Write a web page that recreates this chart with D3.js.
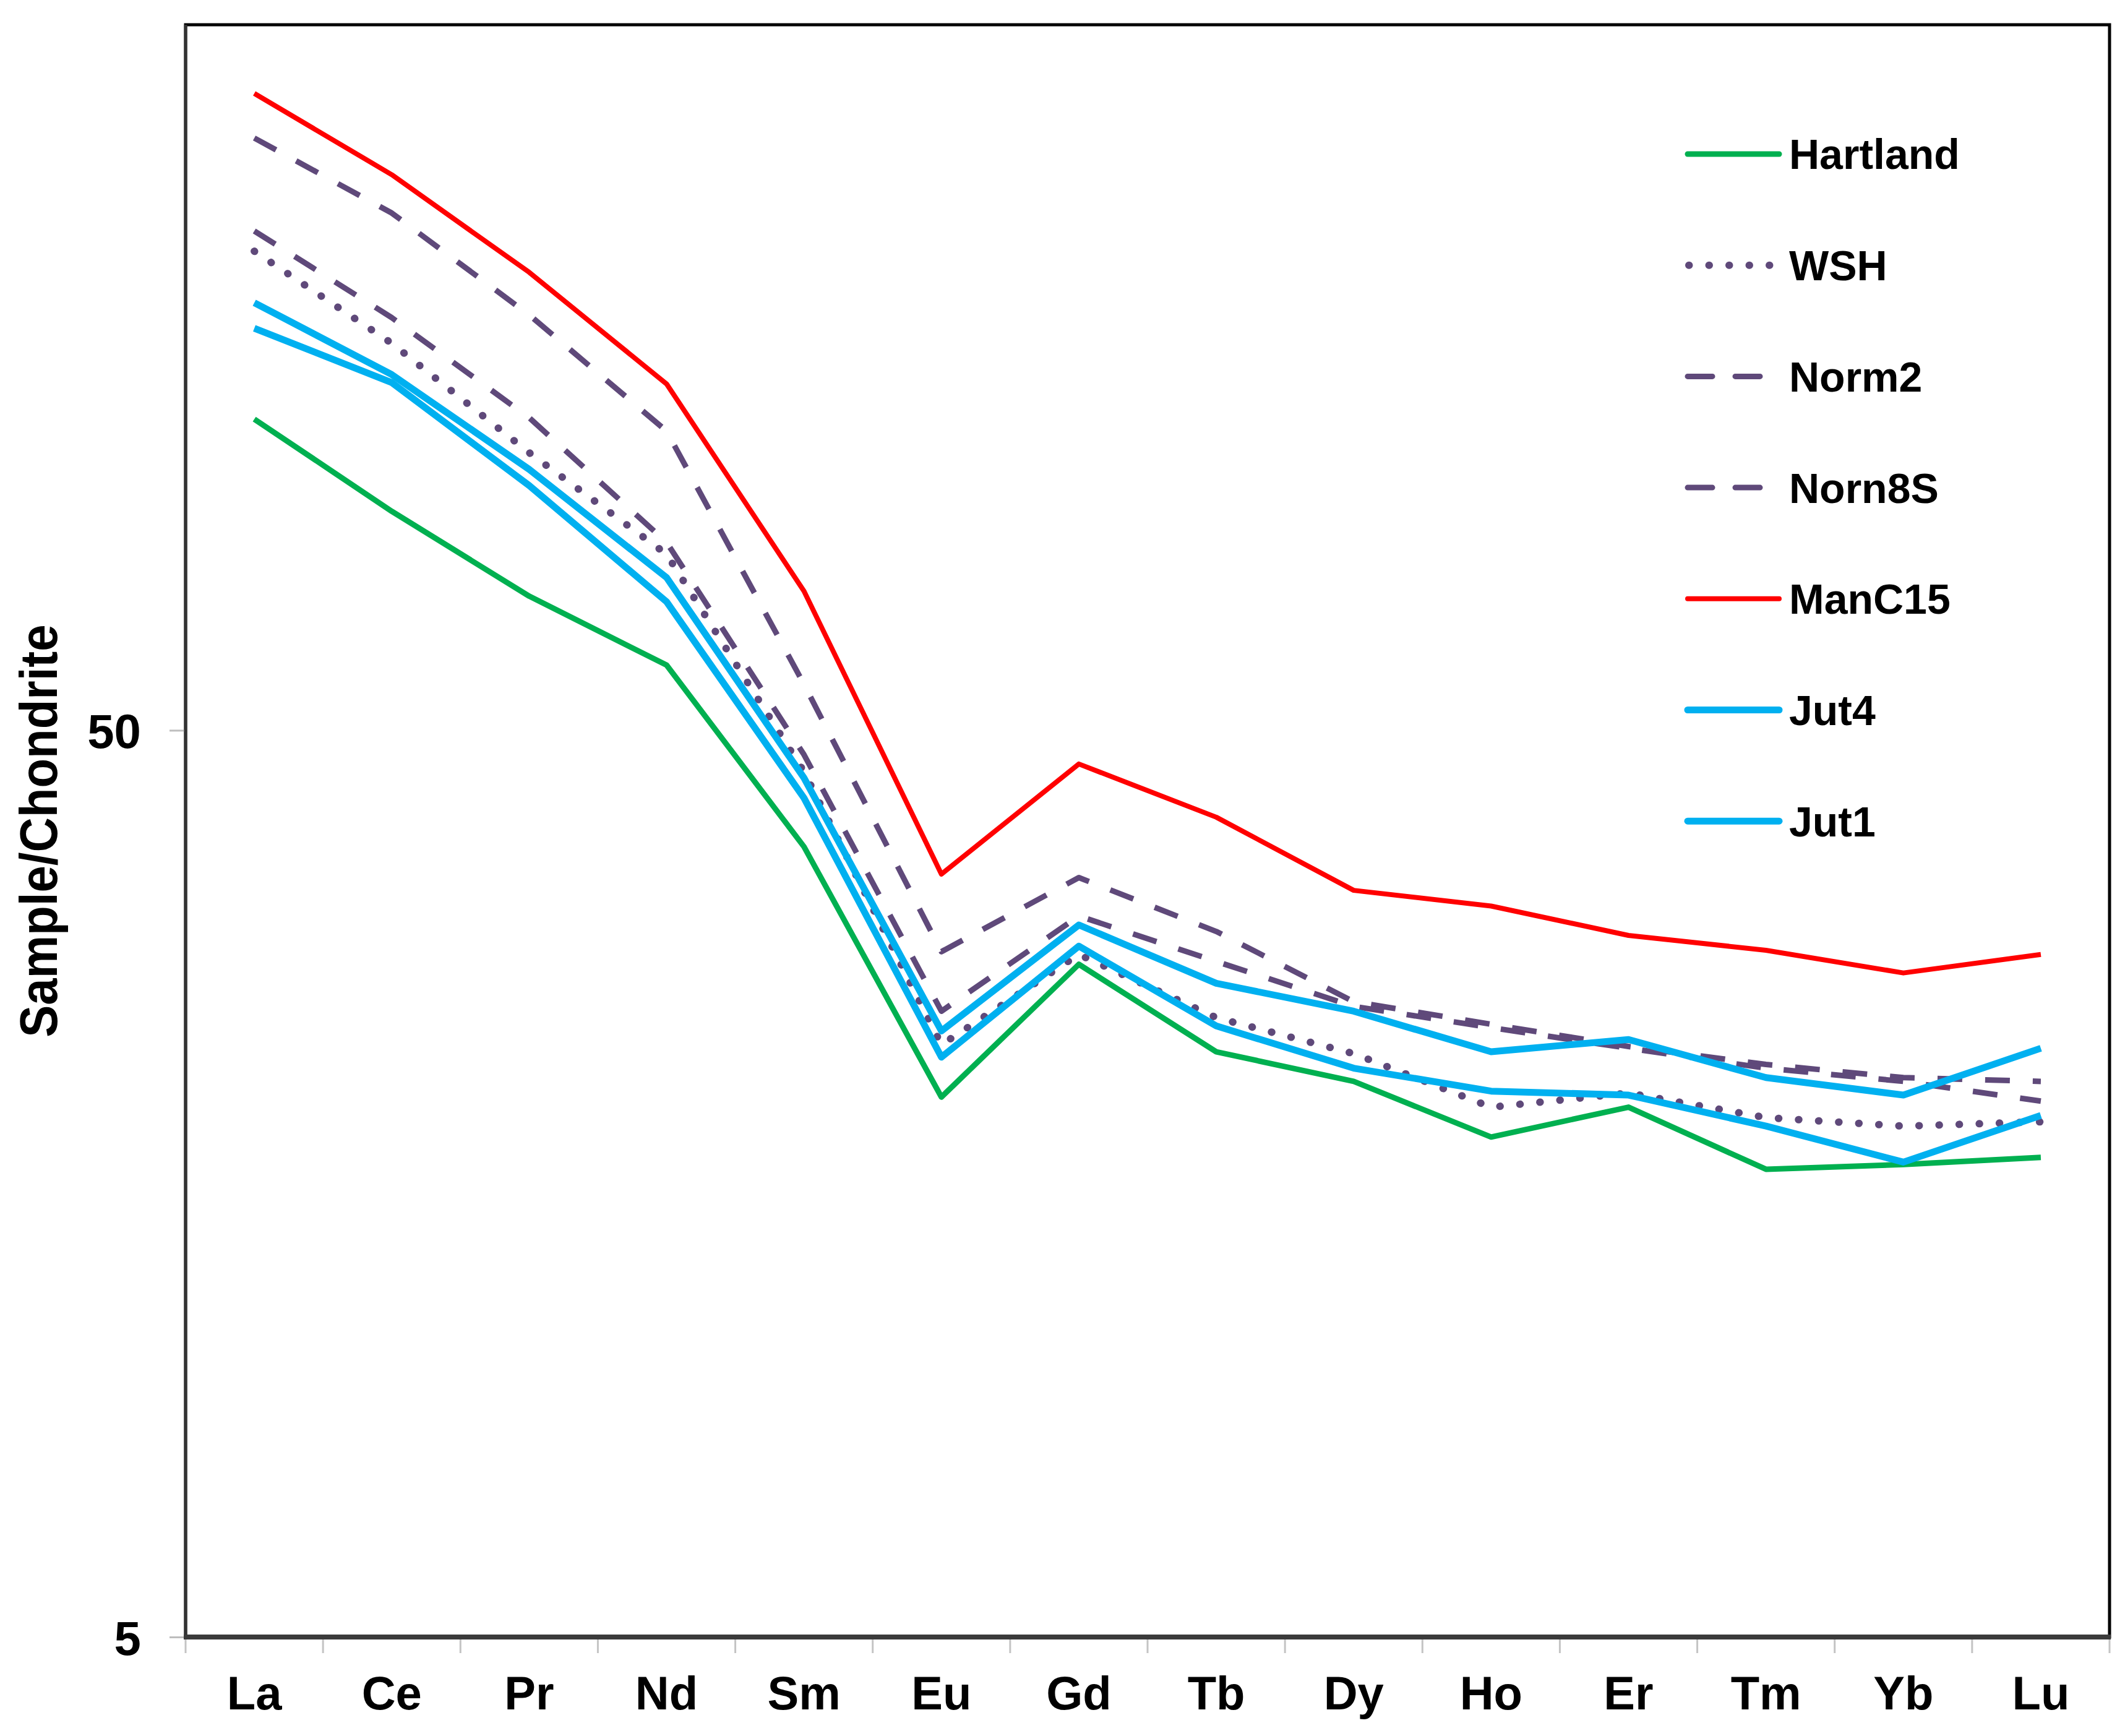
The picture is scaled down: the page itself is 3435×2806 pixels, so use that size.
<!DOCTYPE html>
<html>
<head>
<meta charset="utf-8">
<script src="https://cdn.jsdelivr.net/npm/d3@7"></script>
<style>
  body { margin: 0; background: #fff; }
  text { font-family: "Liberation Sans", Arial, sans-serif; font-weight: bold; fill: #000; }
</style>
</head>
<body>
<div id="chart"></div>
<script>
// REE patterns, chondrite normalised
const elements = ["La", "Ce", "Pr", "Nd", "Sm", "Eu", "Gd", "Tb", "Dy", "Ho", "Er", "Tm", "Yb", "Lu"];
const seriesNames = ["Hartland", "WSH", "Norm2", "Norn8S", "ManC15", "Jut4", "Jut1"];

const hartland = [110.2, 87.2, 70.3, 59.0, 37.2, 19.7, 27.6, 22.1, 20.5, 17.8, 19.2, 16.4, 16.6, 16.9];
const wsh      = [168.8, 133.6, 101.2, 78.2, 45.0, 22.5, 28.3, 24.1, 22.0, 19.2, 19.9, 18.7, 18.3, 18.5];
const norm2    = [225, 186, 143.6, 106.9, 56.2, 28.5, 34.4, 30.0, 25.1, 23.7, 22.4, 21.4, 20.7, 20.5];
const norn8s   = [177.7, 142.6, 110.6, 80.6, 47.0, 24.5, 31.2, 27.8, 24.8, 23.5, 22.3, 21.2, 20.5, 19.5];
const manc15   = [252, 205, 160, 120.5, 71.2, 34.7, 45.9, 40.1, 33.3, 32.0, 29.7, 28.6, 27.0, 28.3];
const jut4     = [148.1, 123.4, 97.0, 73.7, 44.3, 23.3, 30.5, 26.3, 24.5, 22.1, 22.8, 20.7, 19.8, 22.3];
const jut1     = [138.8, 120.9, 93.1, 69.3, 42.1, 21.8, 28.9, 23.6, 21.2, 20.0, 19.8, 18.3, 16.7, 18.8];

const yTicks = [5, 50];
const yDomain = [5, 300];

// line styles (Excel-ish)
const styles = {
    "Hartland": { color: "#00B050", width: 9, dash: null },
    "WSH":      { color: "#5F497A", width: 12, dash: "0.5,32", cap: "round" },
    "Norm2":    { color: "#5F497A", width: 9, dash: "40,37" },
    "Norn8S":   { color: "#5F497A", width: 9, dash: "40,37" },
    "ManC15":   { color: "#FF0000", width: 8, dash: null },
    "Jut4":     { color: "#00B0F0", width: 11, dash: null },
    "Jut1":     { color: "#00B0F0", width: 11, dash: null }
};

const seriesValues = [hartland, wsh, norm2, norn8s, manc15, jut4, jut1];
const series = seriesNames.map((name, i) => ({ name, values: seriesValues[i] }));

const width = 3435;
const height = 2806;
const plot = { left: 300, top: 40, right: 3410, bottom: 2646 };

const svg = d3.select("#chart")
    .append("svg")
    .attr("width", width)
    .attr("height", height);

svg.append("rect")
    .attr("width", width)
    .attr("height", height)
    .attr("fill", "#fff");

// scales
const x = d3.scaleBand()
    .domain(elements)
    .range([plot.left, plot.right])
    .padding(0);

const y = d3.scaleLog()
    .domain(yDomain)
    .range([plot.bottom, plot.top]);

const xc = d => x(d) + x.bandwidth() / 2;

// plot frame
svg.append("rect")
    .attr("x", plot.left)
    .attr("y", plot.top)
    .attr("width", plot.right - plot.left)
    .attr("height", plot.bottom - plot.top)
    .attr("fill", "none")
    .attr("stroke", "#000")
    .attr("stroke-width", 5);

// y axis
const yAxis = d3.axisLeft(y)
    .tickValues(yTicks)
    .tickFormat(d3.format("d"))
    .tickSize(26)
    .tickPadding(46);

const yg = svg.append("g")
    .attr("transform", `translate(${plot.left},0)`)
    .call(yAxis);
yg.select(".domain").remove();
yg.selectAll(".tick line").attr("stroke", "#bdbdbd").attr("stroke-width", 3);
yg.selectAll(".tick text")
    .style("font-size", "78px")
    .attr("dy", "0.36em");

svg.append("line")
    .attr("x1", plot.left).attr("x2", plot.left)
    .attr("y1", plot.top).attr("y2", plot.bottom)
    .attr("stroke", "#333")
    .attr("stroke-width", 5);

// x axis: labels centered in bands, tick marks on band edges
const xAxis = d3.axisBottom(x).tickSize(0);
const xg = svg.append("g")
    .attr("transform", `translate(0,${plot.bottom})`)
    .call(xAxis);
xg.select(".domain").remove();
xg.selectAll(".tick text")
    .attr("y", 117)
    .attr("dy", null)
    .style("font-size", "76px");

svg.append("g")
    .selectAll("line")
    .data(elements.map(d => x(d)).concat([x.range()[1]]))
    .enter()
    .append("line")
    .attr("x1", d => d).attr("x2", d => d)
    .attr("y1", plot.bottom).attr("y2", plot.bottom + 26)
    .attr("stroke", "#c4c4c4")
    .attr("stroke-width", 3);

svg.append("line")
    .attr("x1", plot.left - 3).attr("x2", plot.right + 2)
    .attr("y1", plot.bottom).attr("y2", plot.bottom)
    .attr("stroke", "#3a3a3a")
    .attr("stroke-width", 8);

// y title, a bit taller than wide like the original
svg.append("text")
    .attr("transform", "translate(92,1343) scale(1.1,1) rotate(-90)")
    .attr("text-anchor", "middle")
    .style("font-size", "78px")
    .text("Sample/Chondrite");

// lines
const line = d3.line()
    .x((d, i) => xc(elements[i]))
    .y(d => y(d));

svg.append("g")
    .selectAll("path")
    .data(series)
    .enter()
    .append("path")
    .attr("d", d => line(d.values))
    .attr("fill", "none")
    .attr("stroke", d => styles[d.name].color)
    .attr("stroke-width", d => styles[d.name].width)
    .attr("stroke-dasharray", d => styles[d.name].dash)
    .attr("stroke-linecap", d => styles[d.name].cap || "butt")
    .attr("stroke-linejoin", "round");

// legend
const legendTop = 249;
const legendStep = 179.7;
const legend = svg.append("g")
    .selectAll("g")
    .data(series)
    .enter()
    .append("g")
    .attr("transform", (d, i) => `translate(2728,${legendTop + i * legendStep})`);

legend.append("line")
    .attr("x1", d => d.name === "WSH" ? 2 : 0)
    .attr("x2", 148)
    .attr("stroke", d => styles[d.name].color)
    .attr("stroke-width", d => styles[d.name].width)
    .attr("stroke-dasharray", d => styles[d.name].dash)
    .attr("stroke-linecap", d => styles[d.name].cap || "round");

legend.append("text")
    .attr("x", 164)
    .attr("y", 0)
    .attr("dy", "0.36em")
    .style("font-size", "68px")
    .text(d => d.name);
</script>
</body>
</html>
